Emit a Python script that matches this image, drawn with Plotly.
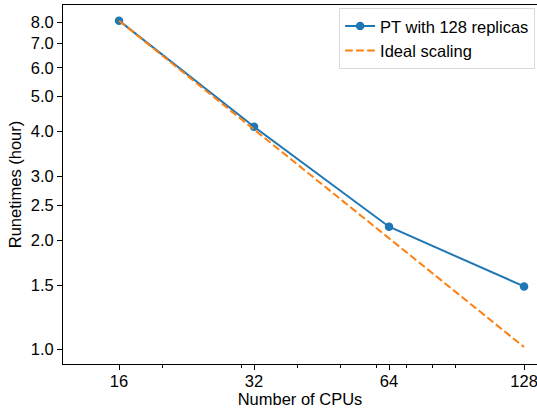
import math
import plotly.graph_objects as go

cpus = [16, 32, 64, 128]
pt_runtime = [8.1, 4.12, 2.18, 1.49]
ideal_runtime = [8.1, 4.05, 2.025, 1.0125]

x_tickvals = [16, 32, 64, 128]
x_ticktext = ["16", "32", "64", "128"]
x_minor = [20, 30, 40, 50, 60, 70, 80, 90]
y_tickvals = [1.0, 1.5, 2.0, 2.5, 3.0, 4.0, 5.0, 6.0, 7.0, 8.0]
y_ticktext = ["1.0", "1.5", "2.0", "2.5", "3.0", "4.0", "5.0", "6.0", "7.0", "8.0"]

FONT = "Liberation Sans, Arial, Helvetica, sans-serif"
FS = 16.5

fig = go.Figure()
fig.add_trace(go.Scatter(
    x=cpus, y=pt_runtime, mode="lines+markers", name="PT with 128 replicas",
    line=dict(color="#1f77b4", width=2),
    marker=dict(color="#1f77b4", size=8.5),
))
fig.add_trace(go.Scatter(
    x=cpus, y=ideal_runtime, mode="lines", name="Ideal scaling",
    line=dict(color="#ff7f0e", width=2, dash="7.7px,3.3px"),
))

fig.update_layout(
    width=537, height=408,
    margin=dict(l=63, r=0, t=5, b=44),
    paper_bgcolor="white", plot_bgcolor="white",
    font=dict(family=FONT, size=FS, color="black"),
    showlegend=True,
    legend=dict(
        x=0.996, y=0.992, xanchor="right", yanchor="top",
        bgcolor="rgba(255,255,255,0.8)", bordercolor="#d9d9d9", borderwidth=1,
        font=dict(family=FONT, size=FS, color="black"),
        itemwidth=30, tracegroupgap=0,
    ),
)

fig.update_xaxes(
    type="log", range=[math.log10(12.0), math.log10(136.8)],
    tickmode="array", tickvals=x_tickvals, ticktext=x_ticktext,
    ticks="outside", ticklen=5, tickwidth=1.1, tickcolor="black",
    showline=True, linecolor="black", linewidth=1.1, mirror=True,
    showgrid=False, zeroline=False, automargin=False,
    ticklabeloverflow="allow", ticklabelstandoff=-3,
    minor=dict(tickmode="array", tickvals=x_minor, ticks="outside", ticklen=3,
               tickwidth=0.8, tickcolor="black", showgrid=False),
    title=dict(text="Number of CPUs", standoff=2, font=dict(size=FS)),
    tickfont=dict(size=FS),
)
fig.update_yaxes(
    type="log", range=[math.log10(0.909), math.log10(8.95)],
    tickmode="array", tickvals=y_tickvals, ticktext=y_ticktext,
    ticks="outside", ticklen=5, tickwidth=1.1, tickcolor="black",
    showline=True, linecolor="black", linewidth=1.1, mirror=False,
    showgrid=False, zeroline=False, automargin=False,
    title=dict(text="Runetimes (hour)", standoff=4, font=dict(size=FS)),
    tickfont=dict(size=FS),
)

fig.write_html("out.html", config={"displayModeBar": False},
               post_script="document.body.style.margin='0';document.body.style.overflow='hidden';")
